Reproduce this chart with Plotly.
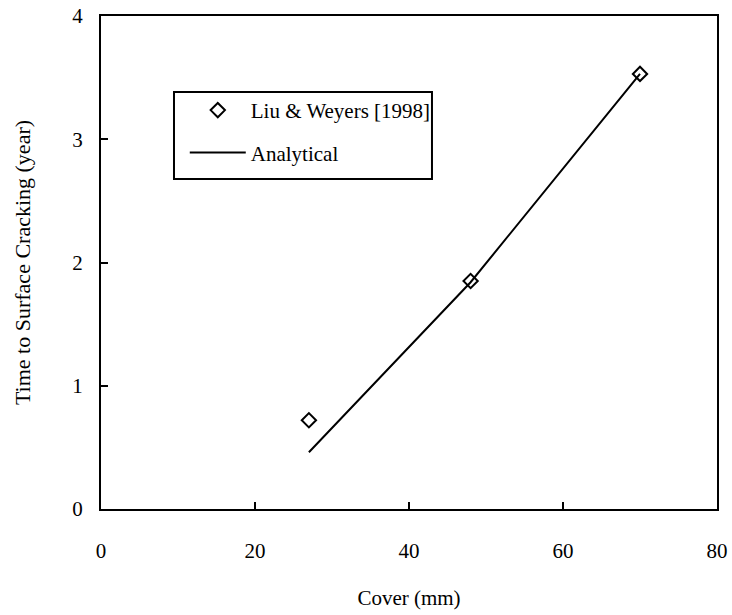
import plotly.graph_objects as go

cover_exp = [27, 48, 70]
time_exp = [0.72, 1.85, 3.53]

cover_ana = [27, 48, 70]
time_ana = [0.46, 1.84, 3.53]

x_ticks = [0, 20, 40, 60, 80]
y_ticks = [0, 1, 2, 3, 4]

FONT = "Liberation Serif"

fig = go.Figure()
fig.add_trace(go.Scatter(
    x=cover_exp, y=time_exp, mode="markers", name="Liu & Weyers [1998]",
    legendgroup="a",
    marker=dict(symbol="diamond-open", size=11, color="black", line=dict(width=2, color="black")),
))
fig.add_trace(go.Scatter(
    x=cover_ana, y=time_ana, mode="lines", name="Analytical",
    legendgroup="b",
    line=dict(color="black", width=2),
))

# legend frame
fig.add_shape(type="rect", xref="paper", yref="paper",
              x0=0.1185, x1=0.5373, y0=0.6694, y1=0.8458,
              line=dict(color="black", width=2), fillcolor="rgba(0,0,0,0)", layer="above")

fig.update_layout(
    width=732, height=615,
    margin=dict(l=101, r=15, t=16, b=106),
    paper_bgcolor="white", plot_bgcolor="white",
    font=dict(family=FONT, size=21, color="black"),
    showlegend=True,
    legend=dict(
        x=0.136, y=0.85, xanchor="left", yanchor="top",
        borderwidth=0, bgcolor="rgba(0,0,0,0)",
        font=dict(family=FONT, size=21, color="black"),
        tracegroupgap=12, itemwidth=56,
    ),
    xaxis=dict(
        range=[0, 80], tickvals=x_ticks, ticks="inside", ticklen=7, tickwidth=2,
        tickcolor="black", showline=True, linecolor="black", linewidth=2, mirror=True,
        showgrid=False, zeroline=False, ticklabelstandoff=22, automargin=False,
        title=dict(text="Cover (mm)", standoff=28, font=dict(family=FONT, size=21)),
    ),
    yaxis=dict(
        range=[0, 4], tickvals=y_ticks, ticks="inside", ticklen=7, tickwidth=2,
        tickcolor="black", showline=True, linecolor="black", linewidth=2, mirror=True,
        showgrid=False, zeroline=False, ticklabelstandoff=12, automargin=False,
        title=dict(text="Time to Surface Cracking (year)", standoff=36, font=dict(family=FONT, size=22)),
    ),
)

fig.write_html("out.html")
